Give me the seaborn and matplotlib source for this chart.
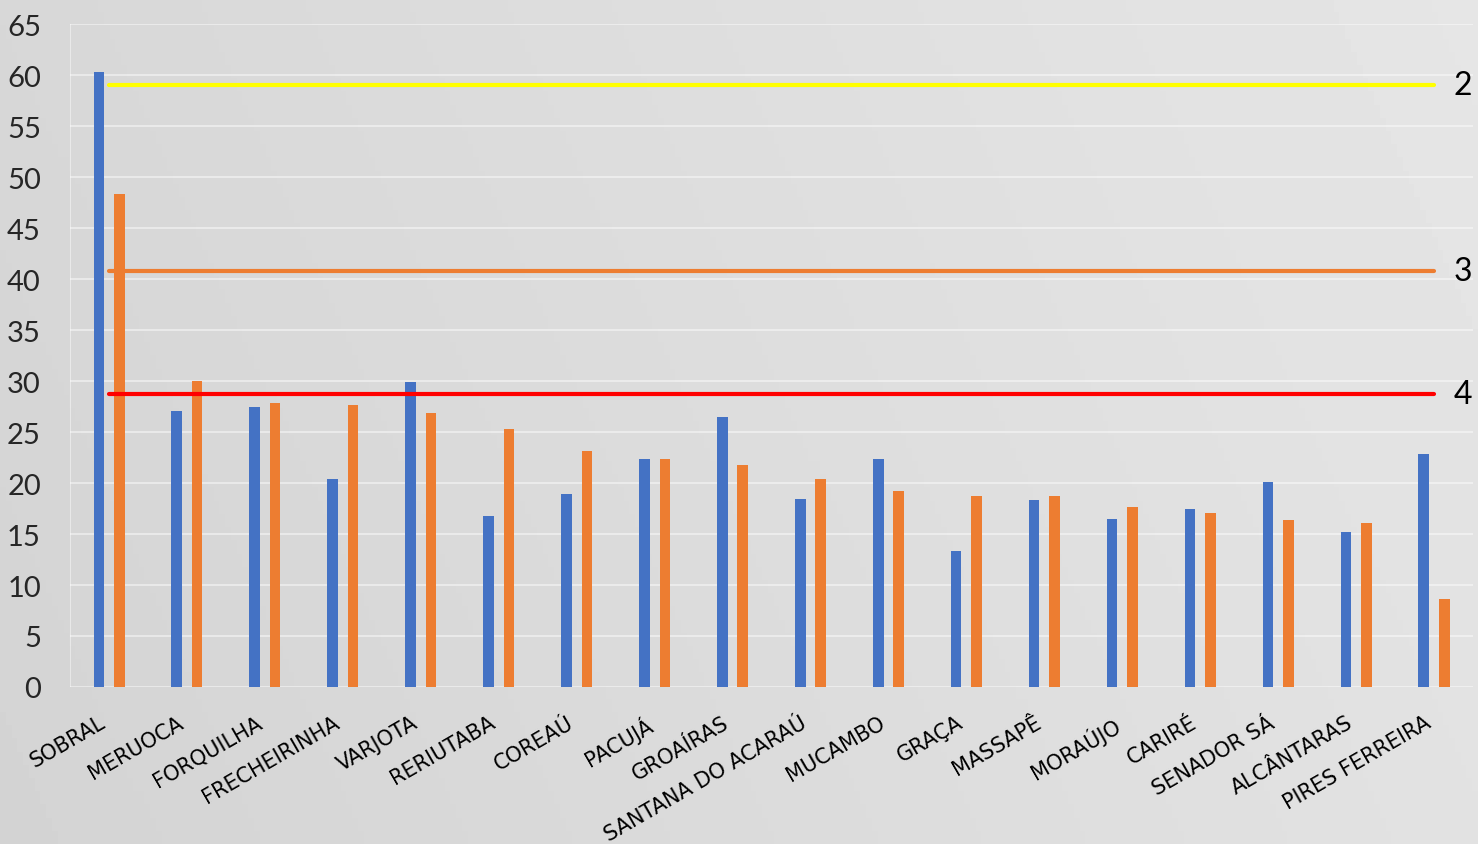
import numpy as np
import pandas as pd
import matplotlib
matplotlib.use("Agg")
import matplotlib.pyplot as plt
import matplotlib.transforms as mtransforms
import seaborn as sb

municipios = ["SOBRAL", "MERUOCA", "FORQUILHA", "FRECHEIRINHA", "VARJOTA",
              "RERIUTABA", "COREAÚ", "PACUJÁ", "GROAÍRAS", "SANTANA DO ACARAÚ",
              "MUCAMBO", "GRAÇA", "MASSAPÊ", "MORAÚJO", "CARIRÉ", "SENADOR SÁ",
              "ALCÂNTARAS", "PIRES FERREIRA"]
serie1 = [60.3, 27.1, 27.5, 20.4, 29.9, 16.8, 18.9, 22.4, 26.5, 18.4,
          22.4, 13.3, 18.3, 16.5, 17.5, 20.1, 15.2, 22.8]
serie2 = [48.3, 30.0, 27.8, 27.6, 26.9, 25.3, 23.1, 22.4, 21.8, 20.4,
          19.2, 18.75, 18.7, 17.6, 17.1, 16.4, 16.1, 8.6]
linhas = [59.0, 40.8, 28.7]
linhas_rotulos = ["2", "3", "4"]
linhas_cores = ["#FFFF00", "#ED7D31", "#FF0000"]

df = pd.DataFrame({
    "municipio": municipios * 2,
    "serie": ["Série 1"] * len(municipios) + ["Série 2"] * len(municipios),
    "valor": serie1 + serie2,
})

sb.set_style("white")
plt.rcParams["font.family"] = ["Lato", "DejaVu Sans"]

fig = plt.figure(figsize=(14.78, 8.45), dpi=100)

# fundo cinza em degradê
bg = fig.add_axes([0, 0, 1, 1], zorder=-10)
grad = np.linspace(0, 1, 256)
img = 0.83 + 0.07 * (grad[None, :] * 0.8 + (1 - np.linspace(0, 1, 64))[:, None] * 0.2)
bg.imshow(img, cmap="gray", vmin=0, vmax=1, aspect="auto", extent=[0, 1, 0, 1])
bg.axis("off")

ax = fig.add_axes([0.0474, 0.1858, 0.9492, 0.7846])
ax.patch.set_alpha(0)

sb.barplot(data=df, x="municipio", y="valor", hue="serie",
           palette=["#4472C4", "#ED7D31"], width=0.524, gap=0.48,
           saturation=1, linewidth=0, legend=False, ax=ax, zorder=3)

for y, rot, cor in zip(linhas, linhas_rotulos, linhas_cores):
    ax.plot([0, 17], [y, y], color=cor, lw=3, solid_capstyle="round", zorder=4)
    ax.text(17.37, y, rot, fontsize=23, ha="center", va="center", color="black")

ax.set_xlim(-0.5, 17.5)
ax.set_ylim(0, 65)
ax.set_yticks(range(0, 66, 5))
ax.grid(axis="y", color="white", alpha=0.45, lw=1.5, zorder=0)
ax.axvline(-0.5, color="white", alpha=0.45, lw=1.5)
for s in ax.spines.values():
    s.set_visible(False)
ax.set_xlabel("")
ax.set_ylabel("")
ax.tick_params(axis="y", length=0, pad=21, labelsize=21)
ax.tick_params(axis="x", length=0, labelbottom=False)

# rótulos inclinados das categorias
desloc = mtransforms.ScaledTranslation(-0.10, -0.25, fig.dpi_scale_trans)
trans = ax.get_xaxis_transform() + desloc
for i, nome in enumerate(municipios):
    ax.text(i, 0, nome, transform=trans, rotation=30, rotation_mode="anchor",
            ha="right", va="top", fontsize=15, family=["DejaVu Sans"],
            color="black")

fig.savefig("out.png", dpi=100)
